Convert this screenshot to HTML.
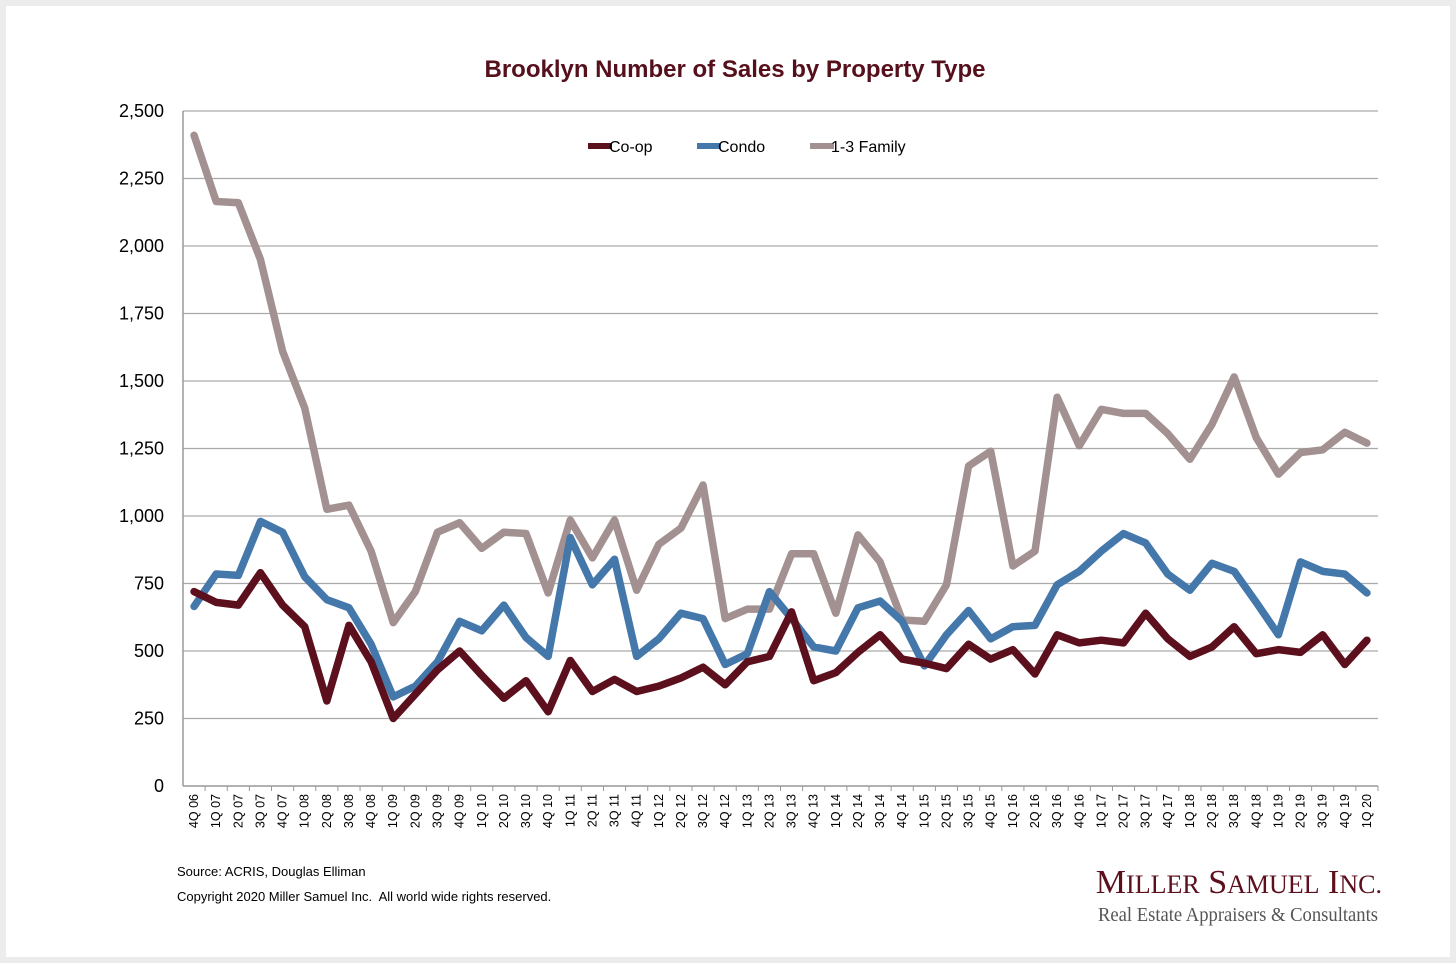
<!DOCTYPE html>
<html><head><meta charset="utf-8"><style>
body{margin:0;background:#ececec;}
#wrap{position:absolute;left:6px;top:6px;width:1444px;height:951px;background:#fff;}
svg{position:absolute;left:0;top:0;}
</style></head><body>
<div id="wrap"></div>
<svg id="chart" width="1456" height="963" font-family="Liberation Sans, sans-serif">
<text x="735" y="77" text-anchor="middle" font-size="24" font-weight="bold" fill="#55101c">Brooklyn Number of Sales by Property Type</text>
<g id="grid"></g><g id="lines"></g><g id="xlabels"></g>
<g>
<line x1="588" y1="146" x2="612" y2="146" stroke="#5c0f1c" stroke-width="6"/>
<text x="609" y="152" font-size="16" fill="#000">Co-op</text>
<line x1="697" y1="146" x2="721" y2="146" stroke="#4477aa" stroke-width="6"/>
<text x="718" y="152" font-size="16" fill="#000">Condo</text>
<line x1="810" y1="146" x2="834" y2="146" stroke="#a39191" stroke-width="6"/>
<text x="831" y="152" font-size="16" fill="#000">1-3 Family</text>
</g>
<text x="177" y="876" font-size="13">Source: ACRIS, Douglas Elliman</text>
<text x="177" y="901" font-size="13" xml:space="preserve">Copyright 2020 Miller Samuel Inc.  All world wide rights reserved.</text>
<text x="1382" y="893" text-anchor="end" font-family="Liberation Serif, serif" font-size="34" fill="#5c0f1c">M<tspan font-size="26">ILLER</tspan> S<tspan font-size="26">AMUEL</tspan> I<tspan font-size="26">NC.</tspan></text>
<text x="1098" y="921" textLength="280" lengthAdjust="spacingAndGlyphs" font-family="Liberation Serif, serif" font-size="20" fill="#555">Real Estate Appraisers &amp; Consultants</text>
</svg>
<script>
const categories=["4Q 06","1Q 07","2Q 07","3Q 07","4Q 07","1Q 08","2Q 08","3Q 08","4Q 08","1Q 09","2Q 09","3Q 09","4Q 09","1Q 10","2Q 10","3Q 10","4Q 10","1Q 11","2Q 11","3Q 11","4Q 11","1Q 12","2Q 12","3Q 12","4Q 12","1Q 13","2Q 13","3Q 13","4Q 13","1Q 14","2Q 14","3Q 14","4Q 14","1Q 15","2Q 15","3Q 15","4Q 15","1Q 16","2Q 16","3Q 16","4Q 16","1Q 17","2Q 17","3Q 17","4Q 17","1Q 18","2Q 18","3Q 18","4Q 18","1Q 19","2Q 19","3Q 19","4Q 19","1Q 20"];
const coop=[720,680,670,790,670,590,315,595,460,250,340,430,500,410,325,390,275,465,350,395,350,370,400,440,375,460,480,645,390,420,495,560,470,455,435,525,470,505,415,560,530,540,530,640,545,480,515,590,490,505,495,560,450,540];
const condo=[665,785,780,980,940,775,690,660,525,330,370,460,610,575,670,550,480,920,745,840,480,545,640,620,450,490,720,620,515,500,660,685,610,445,560,650,545,590,595,745,795,870,935,900,785,725,825,795,680,560,830,795,785,715];
const family=[2410,2165,2160,1950,1610,1400,1025,1040,870,605,720,940,975,880,940,935,715,985,845,985,725,895,955,1115,620,655,655,860,860,640,930,830,615,610,745,1185,1240,815,870,1440,1260,1395,1380,1380,1305,1210,1340,1515,1290,1155,1235,1245,1310,1270];
const yTicks=[0,250,500,750,1000,1250,1500,1750,2000,2250,2500];
const NS="http://www.w3.org/2000/svg";
const L=183,R=1378,T=111,B=786;
const step=(R-L)/categories.length;
const xs=i=>L+step*(i+0.5);
const ys=v=>B-(v/2500)*(B-T);
function mk(tag,attrs,parent){const e=document.createElementNS(NS,tag);for(const k in attrs)e.setAttribute(k,attrs[k]);parent.appendChild(e);return e;}
const grid=document.getElementById('grid');
yTicks.forEach(v=>{
 if(v>0){const g=mk('line',{x1:L,x2:R,y1:ys(v),y2:ys(v),stroke:'#aaa','stroke-width':1.2},grid);
 
 }
 const t=mk('text',{x:164,y:ys(v)+6,'text-anchor':'end','font-size':18,fill:'#000'},grid);
 t.textContent=v.toLocaleString('en-US');
 
 
});
const ax=mk('line',{x1:L,x2:L,y1:T,y2:B,stroke:'#999','stroke-width':1.5},grid);


const xa=mk('line',{x1:L,x2:R,y1:B,y2:B,stroke:'#999','stroke-width':1.5},grid);


const xl=document.getElementById('xlabels');
categories.forEach((c,i)=>{
 const tk=mk('line',{x1:L+step*(i+1),x2:L+step*(i+1),y1:B,y2:B+5,stroke:'#999'},xl);
 
 
 const t=mk('text',{x:0,y:0,'font-size':12.5,'text-anchor':'end',transform:`translate(${xs(i)+4},${B+8}) rotate(-90)`},xl);
 t.textContent=c;
 
 
});
const lines=document.getElementById('lines');
[[family,'#a39191','family-line'],[condo,'#4477aa','condo-line'],[coop,'#5c0f1c','coop-line']].forEach(([d,c,n])=>{
 const p=mk('polyline',{points:d.map((v,i)=>xs(i)+','+ys(v)).join(' '),fill:'none',stroke:c,'stroke-width':7.5,'stroke-linejoin':'round','stroke-linecap':'round'},lines);
 
 
});
</script>
</body></html>
